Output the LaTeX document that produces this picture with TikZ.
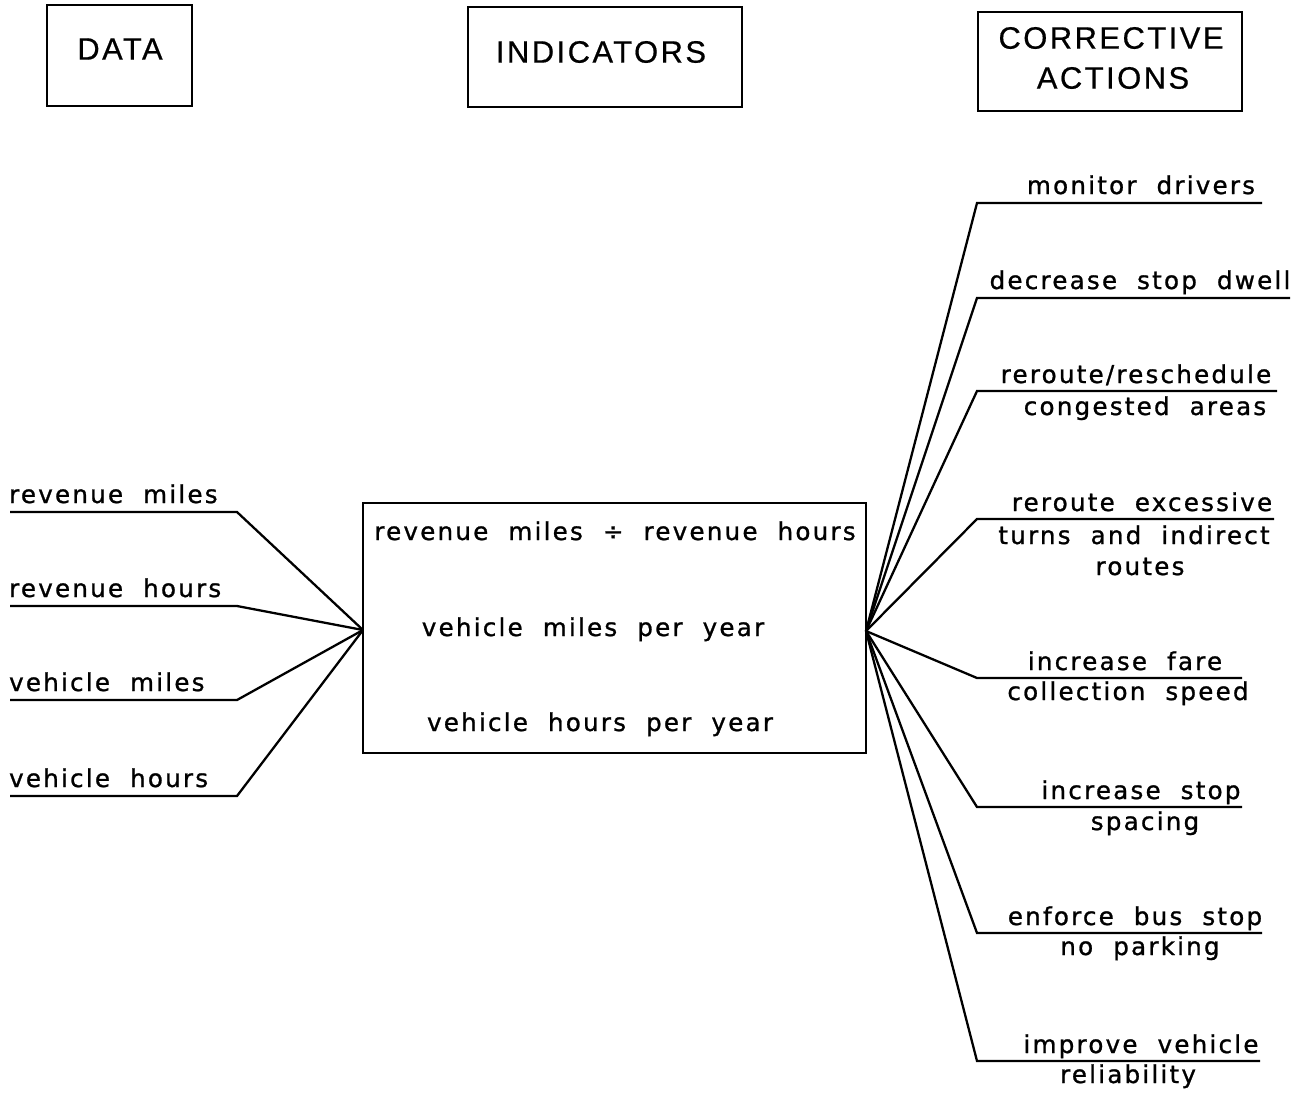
\documentclass[tikz,border=0pt]{standalone}
\usepackage{fontspec}
\newfontfamily\headfont[LetterSpace=8,FakeBold=0.6]{Liberation Sans}
\newfontfamily\labfont[LetterSpace=9,WordSpace=2,FakeBold=1]{DejaVu Sans}
\begin{document}
\begin{tikzpicture}[x=0.02cm,y=-0.02cm,line width=1.3pt,
  hbox/.style={draw,inner sep=0pt},
  htext/.style={font=\headfont\fontsize{17.6}{21}\selectfont,inner sep=0pt},
  lab/.style={font=\labfont\fontsize{14}{16}\selectfont,inner sep=0pt,anchor=base},
  labl/.style={lab,anchor=base west},
  wire/.style={line width=1.3pt,line join=miter}]
\useasboundingbox (0,0) rectangle (1298,1093);

% column headings
\node[hbox,minimum width=2.9cm,minimum height=2.02cm] (databox) at (119.5,55.5) {};
\node[htext] (datatxt) at (120,49) {DATA};
\node[hbox,minimum width=5.48cm,minimum height=2cm] (indbox) at (605,57) {};
\node[htext] (indtxt) at (601,52) {INDICATORS};
\node[hbox,minimum width=5.28cm,minimum height=1.98cm] (corbox) at (1110,61.5) {};
\node[htext] (cortxt1) at (1111,38) {CORRECTIVE};
\node[htext] (cortxt2) at (1113,78) {ACTIONS};

% indicator box
\node[draw,minimum width=10.06cm,minimum height=5cm,inner sep=0pt] (ind) at (614.5,628) {};
\node[lab] (i1) at (615,540) {revenue miles ÷ revenue hours};
\node[lab] (i2) at (593,636) {vehicle miles per year};
\node[lab] (i3) at (600,731) {vehicle hours per year};

\coordinate (hubL) at (363,630);
\coordinate (hubR) at (866,631);

% data items
\foreach \n/\y/\t in {1/512/revenue miles, 2/606/revenue hours, 3/700/vehicle miles, 4/796/vehicle hours}{
  \node[labl] (d\n) at (8,\y-9) {\t};
  \coordinate (d\n a) at (10,\y);
  \coordinate (d\n b) at (237,\y);
  \draw[wire] (d\n a) -- (d\n b) -- (hubL);
}

% corrective actions
\foreach \n/\y/\xe in {1/203/1262, 2/298/1290, 3/391/1277, 4/519/1274, 5/678/1242, 6/807/1242, 7/933/1262, 8/1061/1260}{
  \coordinate (c\n a) at (977,\y);
  \coordinate (c\n b) at (\xe,\y);
  \draw[wire] (hubR) -- (c\n a) -- (c\n b);
}
\node[lab] (c1t) at (1141,194) {monitor drivers};
\node[lab] (c2t) at (1140,289) {decrease stop dwell};
\node[lab] (c3t) at (1136,383) {reroute/reschedule};
\node[lab] (c3u) at (1145,415) {congested areas};
\node[lab] (c4t) at (1142,511) {reroute excessive};
\node[lab] (c4u) at (1134,544) {turns and indirect};
\node[lab] (c4v) at (1140,575) {routes};
\node[lab] (c5t) at (1125,670) {increase fare};
\node[lab] (c5u) at (1128,700) {collection speed};
\node[lab] (c6t) at (1141,799) {increase stop};
\node[lab] (c6u) at (1145,830) {spacing};
\node[lab] (c7t) at (1135,925) {enforce bus stop};
\node[lab] (c7u) at (1140,955) {no parking};
\node[lab] (c8t) at (1141,1053) {improve vehicle};
\node[lab] (c8u) at (1128,1083) {reliability};
\end{tikzpicture}
\end{document}
